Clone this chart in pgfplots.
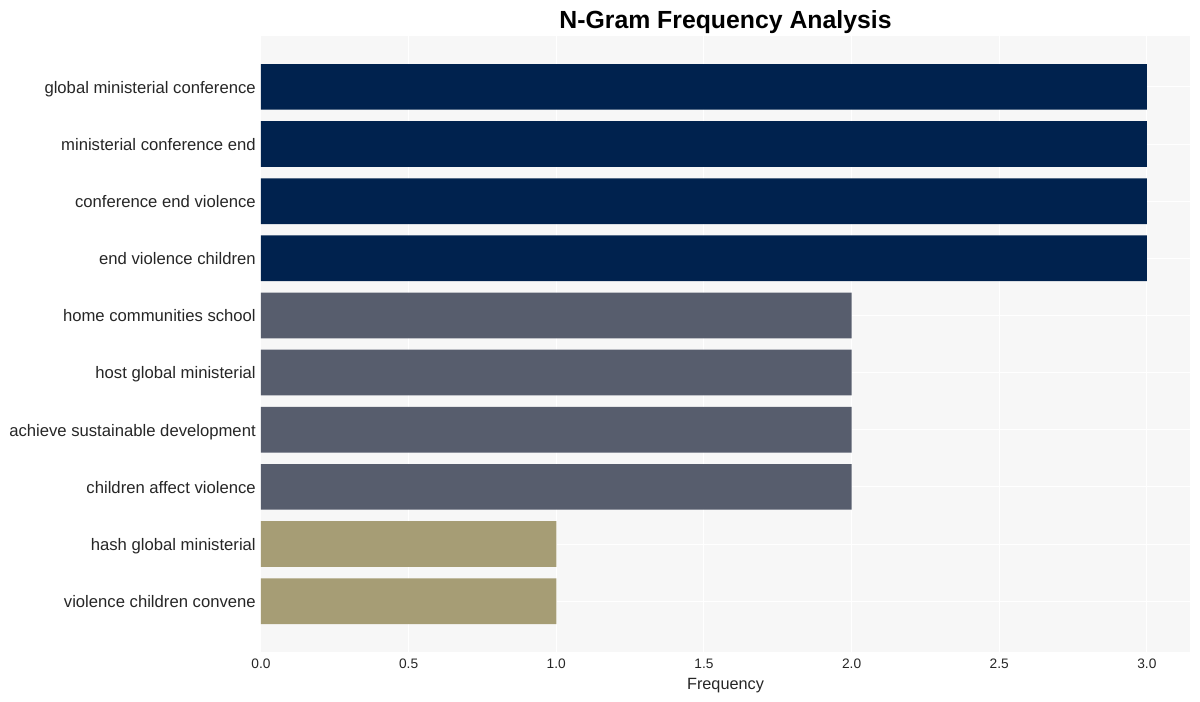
\documentclass[border=0pt]{standalone}
\usepackage{pgfplots}
\pgfplotsset{compat=1.18}
\usepackage{fontspec}
\setmainfont{Liberation Sans}
\definecolor{cA}{HTML}{00224E}
\definecolor{cB}{HTML}{575D6D}
\definecolor{cC}{HTML}{A69D75}
\definecolor{bg}{HTML}{F7F7F7}
\definecolor{txt}{HTML}{262626}
\def\px{0.75pt}
\begin{document}
\begin{tikzpicture}
\begin{axis}[
  name=ax,
  scale only axis,
  width=929*\px, height=616*\px,
  xbar, bar width=0.8, bar shift=0pt,
  y dir=reverse,
  xmin=0, xmax=3.146,
  ymin=-0.89, ymax=9.89,
  ytick={0,...,9},
  yticklabels={global ministerial conference, ministerial conference end, conference end violence, end violence children, home communities school, host global ministerial, achieve sustainable development, children affect violence, hash global ministerial, violence children convene},
  xtick={0,0.5,...,3},
  xticklabel={\pgfmathprintnumber[fixed,fixed zerofill,precision=1]{\tick}},
  /pgf/number format/assume math mode=true,
  axis background/.style={fill=bg},
  axis line style={draw=none},
  major tick length=0pt,
  grid=major,
  major grid style={white, line width=1*\px},
  yticklabel style={font=\fontsize{12.5pt}{15pt}\selectfont, text=txt, inner sep=0pt, text height=0.72em, text depth=0.21em, xshift=-5*\px, yshift=-3*\px},
  xticklabel style={font=\fontsize{10.3pt}{12pt}\selectfont, text=txt, inner sep=0pt, anchor=north, yshift=-6.5*\px},
  xlabel={Frequency},
  xlabel style={font=\fontsize{12.2pt}{14pt}\selectfont, text=txt, at={(axis description cs:0.5,0)}, anchor=base, yshift=-37*\px, inner sep=0pt},
  title={\textbf{N-Gram Frequency Analysis}},
  title style={font=\fontsize{18.6pt}{22pt}\selectfont, at={(axis description cs:0.5,1)}, anchor=base, yshift=0pt, inner sep=0pt},
]
\addplot[fill=cA, draw=none] coordinates {(3,0) (3,1) (3,2) (3,3)};
\addplot[fill=cB, draw=none] coordinates {(2,4) (2,5) (2,6) (2,7)};
\addplot[fill=cC, draw=none] coordinates {(1,8) (1,9)};
\end{axis}
\path[use as bounding box] ([xshift=-261*\px, yshift=-49*\px]ax.south west) rectangle ([xshift=10*\px, yshift=36*\px]ax.north east);
\end{tikzpicture}
\end{document}
